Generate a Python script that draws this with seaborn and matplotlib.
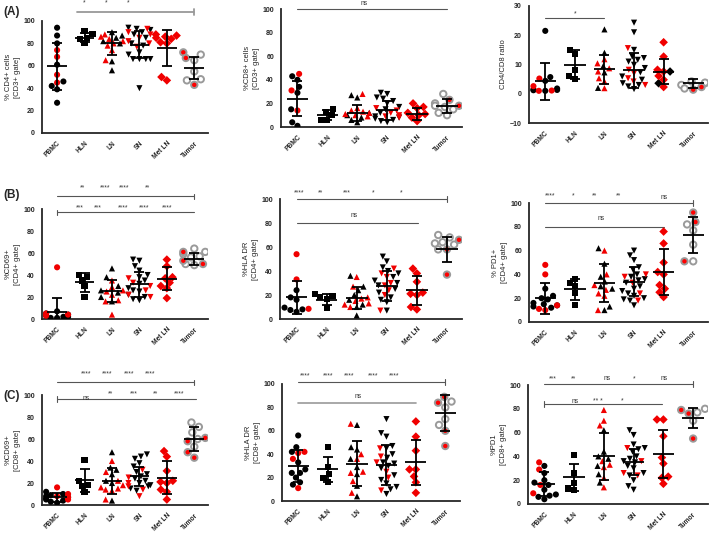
import warnings
import numpy as np
import pandas as pd
import matplotlib
matplotlib.use("Agg")
import matplotlib.pyplot as plt
import seaborn as sns

warnings.filterwarnings("ignore")

groups = ["PBMC", "HLN", "LN", "SN", "Met LN", "Tumor"]

# (A) %CD4+ cells [CD3+ gate]   (tumor: "black" = grey open, "red" = red centre)
cd4_black = [[94, 87, 80, 61, 46, 42, 39, 27], [91, 88, 85, 84, 80], [90, 87, 85, 82, 80, 64, 56],
             [94, 93, 92, 90, 88, 85, 80, 78, 72, 70, 66, 66, 66, 66, 40], [], [70, 65, 55, 48, 47]]
cd4_red = [[74, 68, 52, 45], [], [88, 86, 84, 82, 80, 78, 74, 65], [93, 90, 88, 85, 82, 80, 77],
           [88, 87, 86, 85, 84, 81, 80, 50, 47], [72, 67, 43]]
cd4_mean = [59.5, 85, 80, 79, 76, 58]
cd4_sd = [21, 4, 10, 12, 16, 10]

# %CD8+ cells [CD3+ gate]
cd8_black = [[43, 40, 34, 29, 15, 4, 1], [15, 13, 10, 6, 6], [27, 25, 12, 10, 8, 6, 4],
             [29, 28, 25, 24, 22, 20, 17, 15, 12, 9, 8, 7, 6, 5, 4], [], [28, 20, 18, 17, 15, 12, 10]]
cd8_red = [[45, 31, 14], [], [28, 16, 14, 13, 12, 11, 10, 9], [16, 14, 12, 10, 9, 8],
           [20, 17, 16, 12, 11, 10, 8, 5], [23, 18]]
cd8_mean = [24, 10, 12, 14, 11, 18]
cd8_sd = [15, 4, 7, 8, 5, 6]

# CD4/CD8 ratio
ratio_black = [[21.5, 5.7, 4.4, 1.8, 1.2, 1.0, 1.3, 1.5], [15, 13.6, 8.2, 6.1, 5], [22, 14, 9.5, 7.3, 2],
               [24.3, 21, 15, 12.7, 12.2, 11.6, 11, 9.9, 8.8, 7.3, 5.9, 4.8, 3.6, 2.5, 1.6, 3],
               [7.6, 3.6], [3.6, 3, 4.2, 3.8, 1.8]]
ratio_red = [[5.2, 2.6, 1.0, 1.1], [], [11.8, 10.4, 8.7, 7.6, 5.3, 4.2, 1.9], [15.6, 8.2, 7, 5.3, 4.2, 3],
             [17.6, 12.7, 8.2, 7.6, 6.1, 4.8, 2.3], [2.3, 1.4]]
ratio_mean = [4.2, 9.9, 8.4, 8, 7.6, 3.6]
ratio_sd = [6.2, 5, 5, 6, 4.3, 1.5]

# (B) %CD69+ [CD4+ gate]
cd69_4_black = [[7, 5, 4, 3, 2, 2, 1, 1], [40, 38, 35, 30, 20], [46, 38, 30, 26, 24, 20, 16],
                [54, 53, 48, 44, 40, 38, 35, 32, 28, 26, 25, 22, 20, 18, 17], [], [64, 61, 59, 57, 56, 50, 49]]
cd69_4_red = [[47, 5, 4, 3], [], [35, 29, 26, 25, 22, 17, 16, 4], [37, 33, 30, 26, 22, 20],
              [54, 48, 38, 37, 33, 30, 28, 19], [61, 53, 50]]
cd69_4_mean = [6.5, 33.4, 25.5, 31.6, 36.5, 54.7]
cd69_4_sd = [13, 8.5, 10, 11.5, 10.5, 5.5]

# %HLA DR [CD4+ gate]
hla_4_black = [[24, 18, 16, 9.5, 7.5, 6, 8], [21, 19, 18, 17, 9], [36, 27, 24, 20, 16, 12, 10, 3],
               [52, 48, 43, 40, 38, 35, 32, 30, 28, 25, 22, 18, 16, 14, 7], [], [70, 68, 63, 62, 64, 58]]
hla_4_red = [[54, 33, 8.5], [], [35, 27, 18, 17, 15, 13, 12, 10], [42, 38, 35, 30, 28, 24, 20, 7],
             [42, 38, 31, 22, 21, 20, 10, 8], [66, 58, 37]]
hla_4_mean = [18, 16, 17.5, 27.5, 24, 58]
hla_4_sd = [14, 4.5, 9, 12.5, 12, 10.5]

# % PD1+ [CD4+ gate]
pd1_4_black = [[28, 22, 20, 19, 16, 15, 14, 13, 12], [36, 33, 30, 24, 14], [62, 49, 38, 34, 30, 28, 13, 10],
               [60, 56, 52, 46, 44, 40, 38, 36, 35, 33, 30, 28, 26, 24, 22, 20, 19, 18, 14], [],
               [82, 77, 65, 51]]
pd1_4_red = [[48, 40, 14, 11, 10], [], [60, 40, 31, 27, 24, 22, 10], [40, 38, 33, 24, 18],
             [76, 66, 50, 42, 40, 31, 28, 25, 21], [92, 84, 51]]
pd1_4_mean = [20, 27.5, 33, 34, 42, 73]
pd1_4_sd = [13, 9, 16, 12, 19, 15]

# (C) %CD69+ [CD8+ gate]
cd69_8_black = [[12, 10, 9, 8, 7, 6, 5, 4, 3, 2], [41, 22, 18, 17, 12], [48, 34, 32, 28, 22, 20, 4],
                [46, 44, 42, 38, 35, 30, 28, 26, 24, 22, 20, 18, 17, 15, 13], [], [75, 71, 66, 60, 53]]
cd69_8_red = [[16, 10, 8, 7, 5], [], [40, 30, 22, 18, 16, 15, 14, 13, 5], [32, 25, 20, 17, 14, 8],
              [49, 44, 31, 22, 21, 20, 14, 12, 5], [58, 48, 43, 61]]
cd69_8_mean = [7, 22.5, 22, 26, 25, 60]
cd69_8_sd = [4, 10.5, 12, 9, 15, 10.5]

# %HLA DR [CD8+ gate]
hla_8_black = [[56, 46, 42, 33, 27, 24, 24, 20, 16, 14], [46, 29, 23, 20, 16], [65, 46, 44, 36, 29, 23, 13, 4],
               [70, 58, 55, 47, 45, 40, 37, 33, 32, 30, 28, 22, 18, 15, 12, 10, 6], [],
               [85, 80, 70, 65]]
hla_8_red = [[42, 41, 36, 11], [], [66, 40, 36, 25, 24, 17, 7], [45, 38, 33, 25, 20, 9],
             [68, 55, 43, 27, 27, 21, 16, 7], [89, 84, 60, 47]]
hla_8_mean = [30, 27, 32, 31, 33, 75]
hla_8_sd = [14, 11, 19, 17, 19, 15.5]

# %PD1 [CD8+ gate]
pd1_8_black = [[32, 26, 20, 18, 16, 12, 8, 7, 4, 6], [41, 26, 18, 13, 12], [62, 44, 40, 38, 32, 25, 18],
               [62, 58, 50, 47, 46, 44, 40, 38, 36, 35, 32, 30, 26, 24, 20, 15, 12], [],
               [80, 77, 70]]
pd1_8_red = [[35, 29, 16, 9], [], [79, 70, 66, 36, 33, 31, 22, 14], [47, 36, 26, 24],
             [71, 71, 57, 39, 34, 23, 22, 17], [79, 76, 55]]
pd1_8_mean = [17, 22.5, 40, 35, 42, 72]
pd1_8_sd = [10, 11.5, 20, 11, 20, 8.5]

markers = ["o", "s", "^", "v", "D", "o"]
W, H = 709, 533


def draw_panel(ax, black, red, mean, sd, ylim, yticks, ylabel):
    rows = []
    for g, b, r in zip(groups, black, red):
        rows += [(g, v, "k") for v in b] + [(g, v, "r") for v in r]
    df = pd.DataFrame(rows, columns=["group", "value", "tone"])
    for i, g in enumerate(groups):
        sub = df[df.group == g]
        if g == "Tumor":
            sns.swarmplot(data=sub, x="group", y="value", hue="tone", hue_order=["k", "r"], order=groups,
                          palette={"k": "white", "r": "red"}, marker="o", size=4.6,
                          edgecolor="#9a9a9a", linewidth=1.4, legend=False, ax=ax)
        else:
            sns.swarmplot(data=sub, x="group", y="value", hue="tone", hue_order=["k", "r"], order=groups,
                          palette={"k": "black", "r": "#f00000"}, marker=markers[i], size=4.4,
                          linewidth=0, legend=False, ax=ax)
    x = np.arange(len(groups))
    ax.errorbar(x, mean, yerr=sd, fmt="none", ecolor="black", elinewidth=1.3,
                capsize=3.5, capthick=1.3, zorder=5)
    ax.hlines(mean, x - 0.36, x + 0.36, color="black", lw=1.3, zorder=5)

    ax.set_xlim(-0.55, 5.5)
    ax.set_ylim(*ylim)
    ax.set_yticks(yticks)
    ax.set_xticks(x)
    ax.set_xticklabels(groups, rotation=45, ha="right", rotation_mode="anchor",
                       fontsize=4.8, fontweight="bold")
    for t in ax.get_yticklabels():
        t.set_fontweight("bold")
        t.set_fontsize(5)
    ax.set_xlabel("")
    ax.set_ylabel(ylabel, fontsize=5.5, labelpad=2, linespacing=1.4)
    sns.despine(ax=ax)
    for s in ["left", "bottom"]:
        ax.spines[s].set_linewidth(1.3)
    ax.tick_params(width=1.1, length=3, pad=2)


def sig_bar(ax, x0, x1, y, tl=False, tr=False, color="#555555", lw=0.8, dy=2.5):
    ax.plot([x0, x1], [y, y], color=color, lw=lw, clip_on=False)
    if tl:
        ax.plot([x0, x0], [y - dy, y + dy], color=color, lw=lw, clip_on=False)
    if tr:
        ax.plot([x1, x1], [y - dy, y + dy], color=color, lw=lw, clip_on=False)


def sig_text(ax, x, y, s):
    ax.text(x, y, s, ha="center", va="center", fontsize=4.8, color="#333333", clip_on=False)


sns.set_style("white")
plt.rcParams["font.family"] = ["Liberation Sans", "DejaVu Sans"]
fig = plt.figure(figsize=(W / 100, H / 100), dpi=100)

# left, top, right, bottom in pixels
rects = [(42, 21, 208, 133), (281, 9, 462, 127), (529, 6, 708, 123),
         (42, 209, 208, 319), (280, 199, 462, 319), (529, 203, 708, 322),
         (42, 395, 208, 505), (282, 384, 460, 501), (528, 385, 708, 504)]
axes = []
for l, t, r, b in rects:
    axes.append(fig.add_axes([l / W, 1 - b / H, (r - l) / W, (b - t) / H]))

pct = (0, 100)
pct_ticks = [0, 20, 40, 60, 80, 100]
draw_panel(axes[0], cd4_black, cd4_red, cd4_mean, cd4_sd, pct, pct_ticks, "% CD4+ cells\n[CD3+ gate]")
draw_panel(axes[1], cd8_black, cd8_red, cd8_mean, cd8_sd, pct, pct_ticks, "%CD8+ cells\n[CD3+ gate]")
draw_panel(axes[2], ratio_black, ratio_red, ratio_mean, ratio_sd, (-10, 30), [-10, 0, 10, 20, 30], "CD4/CD8 ratio")
draw_panel(axes[3], cd69_4_black, cd69_4_red, cd69_4_mean, cd69_4_sd, pct, pct_ticks, "%CD69+\n[CD4+ gate]")
draw_panel(axes[4], hla_4_black, hla_4_red, hla_4_mean, hla_4_sd, pct, pct_ticks, "%HLA DR\n[CD4+ gate]")
draw_panel(axes[5], pd1_4_black, pd1_4_red, pd1_4_mean, pd1_4_sd, pct, pct_ticks, "% PD1+\n[CD4+ gate]")
draw_panel(axes[6], cd69_8_black, cd69_8_red, cd69_8_mean, cd69_8_sd, pct, pct_ticks, "%CD69+\n[CD8+ gate]")
draw_panel(axes[7], hla_8_black, hla_8_red, hla_8_mean, hla_8_sd, pct, pct_ticks, "%HLA DR\n[CD8+ gate]")
draw_panel(axes[8], pd1_8_black, pd1_8_red, pd1_8_mean, pd1_8_sd, pct, pct_ticks, "%PD1\n[CD8+ gate]")

# significance annotations
ax = axes[0]
sig_bar(ax, 0.72, 5, 108, tr=True, color="#999999", lw=1.3)
for xs in [1.0, 1.8, 2.6]:
    sig_text(ax, xs, 116, "*")
ax = axes[1]
sig_bar(ax, 0, 5, 100)
sig_text(ax, 2.24, 105, "ns")
ax = axes[2]
sig_bar(ax, 0, 2, 25.8, dy=0)
sig_text(ax, 1, 27.2, "*")

ax = axes[3]
sig_bar(ax, 0, 5, 111.5, tr=True)
for xs, s in zip([0.93, 1.75, 2.45, 3.28], ["**", "****", "****", "**"]):
    sig_text(ax, xs, 119, s)
sig_bar(ax, 0, 5, 97, tl=True)
for xs, s in zip([0.83, 1.5, 2.4, 3.16, 4.0], ["***", "***", "****", "****", "****"]):
    sig_text(ax, xs, 101, s)
ax = axes[4]
sig_bar(ax, 0, 5, 100, tr=True)
for xs, s in zip([0.1, 0.8, 1.68, 2.54, 3.47], ["****", "**", "***", "*", "*"]):
    sig_text(ax, xs, 105, s)
sig_bar(ax, 0, 4.05, 80)
sig_text(ax, 1.92, 86, "ns")
ax = axes[5]
sig_bar(ax, 0, 5, 100, tr=True)
for xs, s in zip([0.15, 0.94, 1.67, 2.46], ["****", "*", "**", "**"]):
    sig_text(ax, xs, 106, s)
sig_text(ax, 4.02, 105, "ns")
sig_bar(ax, 0, 4, 80)
sig_text(ax, 1.9, 87, "ns")

ax = axes[6]
sig_bar(ax, 0, 5, 111.5, tr=True)
for xs in [1.05, 1.83, 2.63, 3.39]:
    sig_text(ax, xs, 119, "****")
sig_bar(ax, 0, 5.05, 96.4, tl=True)
sig_text(ax, 1.05, 97, "ns")
for xs, s in zip([1.93, 2.78, 3.6, 4.43], ["**", "***", "**", "****"]):
    sig_text(ax, xs, 101, s)
ax = axes[7]
sig_bar(ax, 0, 5, 102, tr=True)
for xs in [0.22, 1.01, 1.74, 2.53, 3.26]:
    sig_text(ax, xs, 107, "****")
sig_bar(ax, 0, 4, 83.5, color="#999999", lw=1.2)
sig_text(ax, 2.02, 89, "ns")
ax = axes[8]
sig_bar(ax, 0, 5, 100.5, tr=True)
for xs, s in zip([0.28, 0.97, 2.12, 3.01, 4.04], ["***", "**", "ns", "*", "ns"]):
    sig_text(ax, xs, 105.5, s)
sig_bar(ax, 0, 3.96, 83.8, tl=True)
for xs, s in zip([1.03, 1.79, 2.62], ["ns", "** *", "*"]):
    sig_text(ax, xs, 86.5, s)

for lab, y in [("(A)", 12), ("(B)", 195), ("(C)", 396)]:
    fig.text(3 / W, 1 - y / H, lab, fontsize=8.5, fontweight="bold", va="center", ha="left")

fig.savefig("out.png", dpi=100)
